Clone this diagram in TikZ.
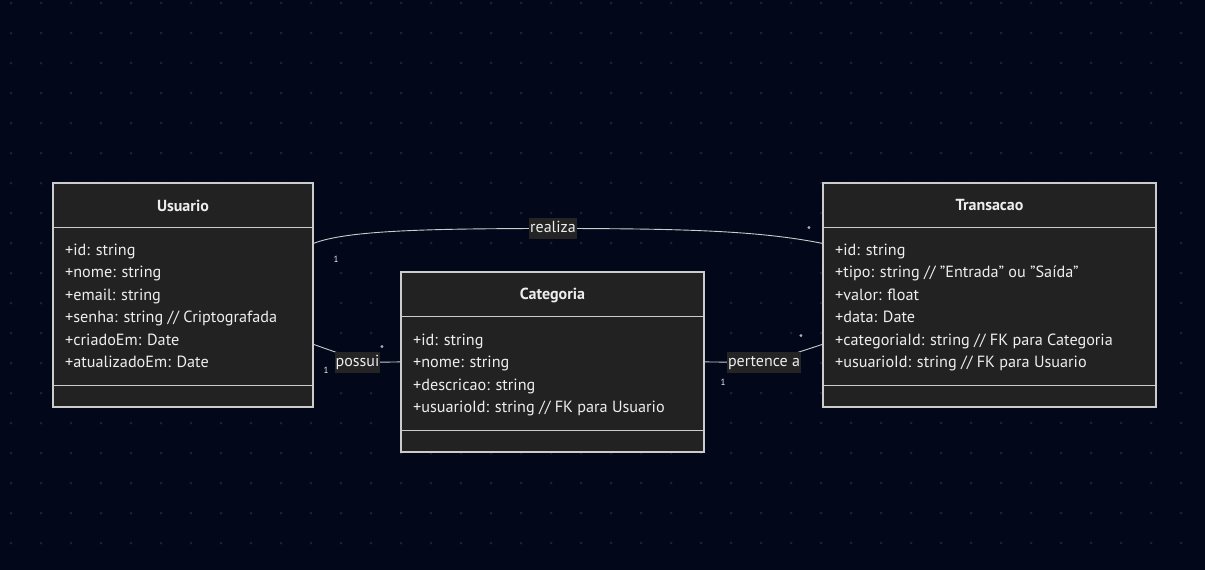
\documentclass[tikz,border=0pt]{standalone}
\usepackage{fontspec}
\setmainfont{PT Sans}
\usetikzlibrary{calc}
\definecolor{bgc}{HTML}{03071A}
\definecolor{dotc}{HTML}{1D2130}
\definecolor{boxfill}{HTML}{212221}
\definecolor{boxline}{HTML}{CCCCCC}
\definecolor{txtc}{HTML}{EEEEEE}
\definecolor{lblbg}{HTML}{232423}
\tikzset{
  classbox/.style={draw=boxline, fill=boxfill, line width=1.2pt, inner sep=0, rectangle},
  sepline/.style={draw=boxline, line width=1.2pt},
  title/.style={font=\fontsize{16}{18}\selectfont\bfseries, text=txtc, inner sep=0},
  attr/.style={font=\fontsize{16.2}{18}\selectfont, text=txtc, anchor=west, inner sep=0, text height=11pt, text depth=3pt},
  rel/.style={draw=boxline, line width=0.9pt},
  rellabel/.style={font=\fontsize{16}{18}\selectfont, text=txtc, fill=lblbg, inner xsep=1pt, inner ysep=2pt, text height=12pt, text depth=4.5pt},
  mult/.style={font=\fontsize{9}{10}\selectfont, text=txtc, inner sep=0},
  multstar/.style={font=\fontsize{11}{12}\selectfont, text=txtc, inner sep=0}
}
\begin{document}
\begin{tikzpicture}[x=1pt,y=-1pt]
\useasboundingbox (0,0) rectangle (1205,570);
\fill[bgc] (0,0) rectangle (1205,570);
\foreach \i in {0,...,39}{
  \foreach \j in {0,...,18}{
    \fill[dotc] (11+30*\i,3+30*\j) circle (1.5);
  }
}
% boxes
\node[classbox, minimum width=260pt, minimum height=224pt] (usuario) at (183,295) {};
\node[classbox, minimum width=333pt, minimum height=224pt] (transacao) at (989.5,295) {};
\node[classbox, minimum width=303pt, minimum height=180pt] (categoria) at (552.5,362) {};
% separators
\draw[sepline] ($(usuario.north west)+(0,45)$) -- ($(usuario.north east)+(0,45)$);
\draw[sepline] ($(usuario.south west)+(0,-22)$) -- ($(usuario.south east)+(0,-22)$);
\draw[sepline] ($(transacao.north west)+(0,45)$) -- ($(transacao.north east)+(0,45)$);
\draw[sepline] ($(transacao.south west)+(0,-22)$) -- ($(transacao.south east)+(0,-22)$);
\draw[sepline] ($(categoria.north west)+(0,45)$) -- ($(categoria.north east)+(0,45)$);
\draw[sepline] ($(categoria.south west)+(0,-22)$) -- ($(categoria.south east)+(0,-22)$);
% titles
\node[title] (tu) at (183,205.5) {Usuario};
\node[title] (tt) at (989.5,205.5) {Transacao};
\node[title] (tc) at (552.5,295.5) {Categoria};
% attributes Usuario
\node[attr] (u1) at (65,251) {+id: string};
\node[attr] (u2) at (65,273.5) {+nome: string};
\node[attr] (u3) at (65,296) {+email: string};
\node[attr] (u4) at (65,318.5) {+senha: string // Criptografada};
\node[attr] (u5) at (65,341) {+criadoEm: Date};
\node[attr] (u6) at (65,363.5) {+atualizadoEm: Date};
% attributes Categoria
\node[attr] (c1) at (413,341) {+id: string};
\node[attr] (c2) at (413,363.5) {+nome: string};
\node[attr] (c3) at (413,386) {+descricao: string};
\node[attr] (c4) at (413,408.5) {+usuarioId: string // FK para Usuario};
% attributes Transacao
\node[attr] (t1) at (835,251) {+id: string};
\node[attr] (t2) at (835,273.5) {+tipo: string // {\char34}Entrada{\char34} ou {\char34}Saída{\char34}};
\node[attr] (t3) at (835,296) {+valor: float};
\node[attr] (t4) at (835,318.5) {+data: Date};
\node[attr] (t5) at (835,341) {+categoriaId: string // FK para Categoria};
\node[attr] (t6) at (835,363.5) {+usuarioId: string // FK para Usuario};
% relation labels positions
\coordinate (lr) at (553,228.5);
\coordinate (lp) at (357.5,362.5);
\coordinate (lq) at (764,362.5);
% relations
\draw[rel] ($(usuario.north east)+(0,61)$) .. controls (345,231) and (420,228.5) .. (lr)
           .. controls (686,228.5) and (761,231) .. ($(transacao.north west)+(0,61)$);
\draw[rel] ($(usuario.north east)+(0,162)$) -- (338,353) -- (lp) -- ($(categoria.north west)+(0,90.5)$);
\draw[rel] ($(categoria.north east)+(0,90.5)$) -- (lq) -- (799,352) -- ($(transacao.north west)+(0,162)$);
\node[rellabel] (realiza) at (lr) {realiza};
\node[rellabel] (possui) at (lp) {possui};
\node[rellabel] (pertence) at (lq) {pertence a};
% multiplicities
\node[mult] (m1) at (336,259) {1};
\node[multstar] (m2) at (809,231) {*};
\node[mult] (m3) at (326,370) {1};
\node[multstar] (m4) at (382,350) {*};
\node[mult] (m5) at (723,382) {1};
\node[multstar] (m6) at (801,339) {*};
\end{tikzpicture}
\end{document}
